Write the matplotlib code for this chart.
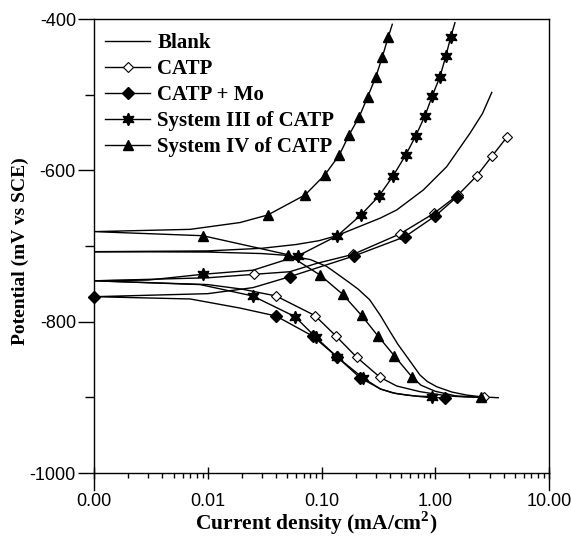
import matplotlib
matplotlib.use("Agg")
import matplotlib.pyplot as plt
from matplotlib.ticker import FixedLocator, FixedFormatter, LogLocator, NullFormatter

plt.rcParams['axes.unicode_minus'] = False
plt.rcParams['mathtext.fontset'] = 'custom'
plt.rcParams['mathtext.bf'] = 'Liberation Serif:bold'
plt.rcParams['mathtext.rm'] = 'Liberation Serif'

# ---------------- data (current density mA/cm2, potential mV vs SCE) ----------------
# each series runs from the cathodic end, through Ecorr, to the anodic end
blank_i = [3.58, 2.6, 1.89, 1.4, 1.03, 0.85, 0.734, 0.561, 0.47, 0.40, 0.33, 0.265, 0.21, 0.178,
           0.135, 0.111, 0.08, 0.0508, 0.03, 0.01, 0.001,
           0.01, 0.03, 0.06, 0.095, 0.136, 0.233, 0.33, 0.458, 0.785, 1.26, 2.02, 2.6, 3.14]
blank_E = [-900.5, -899.5, -897, -893, -886, -879, -870.5, -846, -830, -813, -792, -771, -757, -749,
           -736, -727, -718, -712.5, -710, -708, -707.5,
           -706.5, -703, -698, -693, -686.4, -672.2, -663, -652.4, -626, -595.2, -551, -525, -497]
blank_mk = []

catp_i = [2.70, 1.8, 1.26, 0.734, 0.458, 0.327, 0.204, 0.134, 0.0877, 0.0398, 0.02, 0.01, 0.001,
          0.01, 0.0257, 0.0527, 0.0906, 0.19, 0.49, 0.97, 1.6, 2.31, 3.18, 4.25]
catp_E = [-900, -899.5, -898, -892.5, -885, -873.5, -847, -819, -792, -766, -757, -751, -746,
          -742, -737.4, -734, -723, -711, -684, -657, -632, -607.5, -580.6, -556.4]
catp_mk = [0, 5, 6, 7, 8, 9, 14, 17, 18, 19, 20, 21, 22, 23]

mo_i = [1.22, 0.85, 0.64, 0.45, 0.33, 0.218, 0.138, 0.0835, 0.0398, 0.0192, 0.007, 0.001,
        0.01, 0.025, 0.0528, 0.1, 0.193, 0.542, 1.0, 1.56]
mo_E = [-901, -900, -898, -895, -889, -874, -847, -819, -792.5, -782, -770, -767,
        -763, -755, -740.5, -727, -713.2, -687.7, -660.3, -634.8]
mo_mk = [0, 5, 6, 7, 8, 11, 14, 16, 17, 18, 19]

s3_i = [0.93, 0.7, 0.56, 0.42, 0.33, 0.230, 0.138, 0.089, 0.0585, 0.0248, 0.0086, 0.001,
        0.003, 0.00904, 0.025, 0.0618, 0.138, 0.222, 0.320, 0.428, 0.550, 0.673,
        0.813, 0.942, 1.10, 1.24, 1.37, 1.49]
s3_E = [-899, -898.5, -897, -894, -889, -874, -847, -820.6, -793.4, -766, -751, -746,
        -745, -737.4, -732, -713.2, -686.4, -659, -634, -607, -579.7, -554.6,
        -527.8, -501.4, -476.3, -448.9, -423.4, -404.9]
s3_mk = [0, 5, 6, 7, 8, 9, 13, 15, 16, 17, 18, 19, 20, 21, 22, 23, 24, 25, 26]

s4_i = [2.52, 1.5, 1.0, 0.75, 0.621, 0.436, 0.312, 0.225, 0.1535, 0.097, 0.0508, 0.00904, 0.001,
        0.007, 0.0192, 0.0337, 0.0716, 0.107, 0.1435, 0.175, 0.215, 0.255, 0.301,
        0.343, 0.387, 0.419]
s4_E = [-900, -898, -892, -884, -872.7, -845, -818.5, -791.8, -763.8, -738.3, -711.5, -686.4, -681,
        -678, -669, -659, -632.6, -606, -579.7, -553, -529, -502.7, -476,
        -449.8, -423.4, -407]
s4_mk = [0, 4, 5, 6, 7, 8, 9, 10, 11, 15, 16, 17, 18, 19, 20, 21, 22, 23, 24]

labels = ["Blank", "CATP", "CATP + Mo", "System III of CATP", "System IV of CATP"]
xticks = [0.001, 0.01, 0.1, 1, 10]
xticklabels = ["0.00", "0.01", "0.10", "1.00", "10.00"]
yticks = [-1000, -800, -600, -400]
yminor = [-900, -700, -500]

# ---------------- figure ----------------
W, H = 571, 543
fig = plt.figure(figsize=(W / 100, H / 100), dpi=100)
L, R, T, B = 94, 549, 19, 473
ax = fig.add_axes([L / W, 1 - B / H, (R - L) / W, (B - T) / H])

lw = 1.0
ax.plot(blank_i, blank_E, color='black', lw=lw, label=labels[0])
ax.plot(catp_i, catp_E, color='black', lw=lw, marker='D', ms=5.5, mfc='white', mec='black',
        mew=0.8, markevery=catp_mk, label=labels[1], zorder=3)
ax.plot(mo_i, mo_E, color='black', lw=lw, marker='D', ms=6, mfc='black', mec='black',
        markevery=mo_mk, label=labels[2], clip_on=False, zorder=4)
ax.plot(s3_i, s3_E, color='black', lw=lw, marker=(6, 1, 0), ms=9, mfc='black', mec='black',
        markevery=s3_mk, label=labels[3], zorder=3)
ax.plot(s4_i, s4_E, color='black', lw=lw, marker='^', ms=7, mfc='black', mec='black',
        markevery=s4_mk, label=labels[4], zorder=3)

ax.set_xscale('log')
ax.set_xlim(0.001, 10)
ax.set_ylim(-1000, -400)

ax.xaxis.set_major_locator(FixedLocator(xticks))
ax.xaxis.set_major_formatter(FixedFormatter(xticklabels))
ax.xaxis.set_minor_locator(LogLocator(base=10, subs=range(2, 10), numticks=20))
ax.xaxis.set_minor_formatter(NullFormatter())
ax.yaxis.set_major_locator(FixedLocator(yticks))
ax.yaxis.set_minor_locator(FixedLocator(yminor))

tickfont = 'Liberation Sans'
for lab in ax.get_xticklabels() + ax.get_yticklabels():
    lab.set_fontfamily(tickfont)
    lab.set_fontsize(13)

ax.tick_params(axis='x', which='major', direction='inout', length=9, width=1.0, pad=10)
ax.tick_params(axis='x', which='minor', direction='out', length=3.5, width=1.0)
ax.tick_params(axis='y', which='major', direction='out', length=11.5, width=1.0, pad=1.5)
ax.tick_params(axis='y', which='minor', direction='out', length=6.3, width=1.0)

for sp in ax.spines.values():
    sp.set_linewidth(1.0)

# extended vertical end ticks below x axis
ext = 17 / (B - T)
ax.plot([0, 0], [0, -ext], transform=ax.transAxes, color='black', lw=1.0, clip_on=False)
ax.plot([1, 1], [0, -ext], transform=ax.transAxes, color='black', lw=1.0, clip_on=False)

serif = 'Liberation Serif'
fig.text(316 / W, 1 - 523 / H, r"Current density (mA/cm$^{\mathbf{2}}$)", ha='center', va='center',
         fontfamily=serif, fontweight='bold', fontsize=15.5)
fig.text(20 / W, 1 - 251 / H, "Potential (mV vs SCE)", ha='center', va='center', rotation=90,
         fontfamily=serif, fontweight='bold', fontsize=14)

leg = ax.legend(loc='upper left', bbox_to_anchor=(11 / (R - L), 1 - 14 / (B - T)), frameon=False,
                prop={'family': serif, 'weight': 'bold', 'size': 15}, numpoints=1,
                handlelength=2.17, handletextpad=0.35, labelspacing=0.29, borderpad=0,
                borderaxespad=0)

fig.savefig("out.png", dpi=100)
